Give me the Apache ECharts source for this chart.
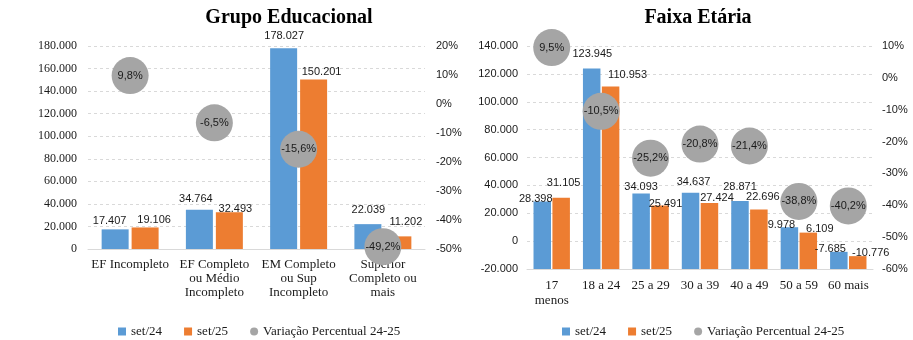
<!DOCTYPE html>
<html><head><meta charset="utf-8">
<script src="https://cdn.jsdelivr.net/npm/echarts@6/dist/echarts.min.js"></script>
<style>html,body{margin:0;padding:0;background:#fff}#c{width:913px;height:340px}</style>
</head><body><div id="c"></div>
<script>
// ---- data ----
const eduCategories = ['EF Incompleto', 'EF Completo\nou Médio\nIncompleto', 'EM Completo\nou Sup\nIncompleto', 'Superior\nCompleto ou\nmais'];
const eduSet24 = [17407, 34764, 178027, 22039];
const eduSet25 = [19106, 32493, 150201, 11202];
const eduVar = [9.8, -6.5, -15.6, -49.2];

const ageCategories = ['17\nmenos', '18 a 24', '25 a 29', '30 a 39', '40 a 49', '50 a 59', '60 mais'];
const ageSet24 = [28398, 123945, 34093, 34637, 28871, 9978, -7685];
const ageSet25 = [31105, 110953, 25491, 27424, 22696, 6109, -10776];
const ageVar = [9.5, -10.5, -25.2, -20.8, -21.4, -38.8, -40.2];

const seriesNames = ['set/24', 'set/25', 'Variação Percentual 24-25'];
const titles = ['Grupo Educacional', 'Faixa Etária'];

// ---- label placement nudges (style only, px offsets as in the original layout) ----
const eduNudge24 = [[-5.5, -3], [-3.5, -5], [0.5, -6.5], [0.5, -8.5]];
const eduNudge25 = [[9, -1.7], [6, 2.1], [8, -2.5], [8, -8.5]];
const ageNudge24 = [[-6.5, 2.5], [0.6, -8.5], [0, -1], [3, -5.5], [0, -8.5], [-8, 3.5], [-8.5, 2.8]];
const ageNudge25 = [[2.5, -9.5], [17, -5.9], [5.5, 3.7], [7.5, 1], [4, -6.9], [11.5, 1.5], [13, 2.2]];

// ---- formatting ----
function fmtNum(v) {
  const s = String(Math.abs(Math.round(v))).replace(/\B(?=(\d{3})+(?!\d))/g, '.');
  return (v < 0 ? '-' : '') + s;
}
function fmtPct(v) { return v.toFixed(1).replace('.', ',') + '%'; }
function fmtAxisPct(v) { return Math.round(v) + '%'; }

const BLUE = '#5B9BD5', ORANGE = '#ED7D31', GRAY = '#A5A5A5';
const SERIF = '"Liberation Serif", "DejaVu Serif", serif';
const SANS = '"Liberation Sans", Arial, sans-serif';
const TXT = '#1a1a1a';

const gridLine = { show: true, lineStyle: { color: '#D9D9D9', type: [3, 3], width: 1 } };

function barSeries(name, values, nudges, color, xi, yi, opts) {
  return Object.assign({
    name, type: 'bar', xAxisIndex: xi, yAxisIndex: yi,
    data: values.map((v, i) => ({ value: v, label: { offset: nudges[i] } })),
    itemStyle: { color },
    label: { show: true, position: 'top', distance: 0, formatter: p => fmtNum(p.value),
      fontFamily: SANS, fontSize: 11, color: TXT },
    z: 2
  }, opts);
}
function dotSeries(data, xi, yi) {
  return {
    name: seriesNames[2], type: 'scatter', xAxisIndex: xi, yAxisIndex: yi, data,
    symbolSize: 37, itemStyle: { color: GRAY, opacity: 1 },
    label: { show: true, position: 'inside', formatter: p => fmtPct(p.value),
      fontFamily: SANS, fontSize: 11, color: TXT },
    z: 5
  };
}
function legend(left) {
  return {
    left, top: 320, itemWidth: 8, itemHeight: 8, itemGap: 22,
    textStyle: { fontFamily: SERIF, fontSize: 13, color: TXT },
    data: [{ name: seriesNames[0], icon: 'rect' }, { name: seriesNames[1], icon: 'rect' }, { name: seriesNames[2], icon: 'circle' }]
  };
}

const chart = echarts.init(document.getElementById('c'), null, { renderer: 'canvas' });
chart.setOption({
  animation: false,
  backgroundColor: '#fff',
  title: [
    { text: titles[0], left: 284, top: 3, textAlign: 'center',
      textStyle: { fontFamily: SERIF, fontSize: 20, fontWeight: 'bold', color: '#000' } },
    { text: titles[1], left: 693, top: 3, textAlign: 'center',
      textStyle: { fontFamily: SERIF, fontSize: 20, fontWeight: 'bold', color: '#000' } }
  ],
  legend: [legend(113), legend(557)],
  grid: [
    { left: 88, top: 46, width: 337, height: 203 },
    { left: 527, top: 46, width: 346, height: 223 }
  ],
  xAxis: [
    { type: 'category', gridIndex: 0, data: eduCategories,
      axisLine: { show: true, onZero: false, lineStyle: { color: '#D9D9D9' } }, axisTick: { show: false },
      axisLabel: { interval: 0, margin: 9, lineHeight: 14, fontFamily: SERIF, fontSize: 13, color: TXT } },
    { type: 'category', gridIndex: 1, data: ageCategories,
      axisLine: { show: true, onZero: false, lineStyle: { color: '#D9D9D9' } }, axisTick: { show: false },
      axisLabel: { interval: 0, margin: 9, lineHeight: 15, fontFamily: SERIF, fontSize: 13, color: TXT } }
  ],
  yAxis: [
    { type: 'value', gridIndex: 0, min: 0, max: 180000, interval: 20000,
      splitLine: gridLine, axisLine: { show: false }, axisTick: { show: false },
      axisLabel: { margin: 11, formatter: fmtNum, fontFamily: SERIF, fontSize: 12, color: TXT } },
    { type: 'value', gridIndex: 0, position: 'right', min: -50, max: 20, interval: 10,
      splitLine: { show: false }, axisLine: { show: false }, axisTick: { show: false },
      axisLabel: { margin: 11, formatter: fmtAxisPct, fontFamily: SANS, fontSize: 11, color: TXT } },
    { type: 'value', gridIndex: 1, min: -20000, max: 140000, interval: 20000, startValue: -20000,
      splitLine: gridLine, axisLine: { show: false }, axisTick: { show: false },
      axisLabel: { margin: 9, formatter: fmtNum, fontFamily: SANS, fontSize: 11, color: TXT } },
    { type: 'value', gridIndex: 1, position: 'right', min: -60, max: 10, interval: 10,
      splitLine: { show: false }, axisLine: { show: false }, axisTick: { show: false },
      axisLabel: { margin: 9, formatter: fmtAxisPct, fontFamily: SANS, fontSize: 11, color: TXT } }
  ],
  series: [
    barSeries(seriesNames[0], eduSet24, eduNudge24, BLUE, 0, 0, { barWidth: 27, barGap: '11%' }),
    barSeries(seriesNames[1], eduSet25, eduNudge25, ORANGE, 0, 0, { barWidth: 27, barGap: '11%' }),
    dotSeries(eduVar, 0, 1),
    barSeries(seriesNames[0], ageSet24, ageNudge24, BLUE, 1, 2, { barWidth: 17.5, barGap: '8%' }),
    barSeries(seriesNames[1], ageSet25, ageNudge25, ORANGE, 1, 2, { barWidth: 17.5, barGap: '8%' }),
    dotSeries(ageVar, 1, 3)
  ]
});
</script>
</body></html>
